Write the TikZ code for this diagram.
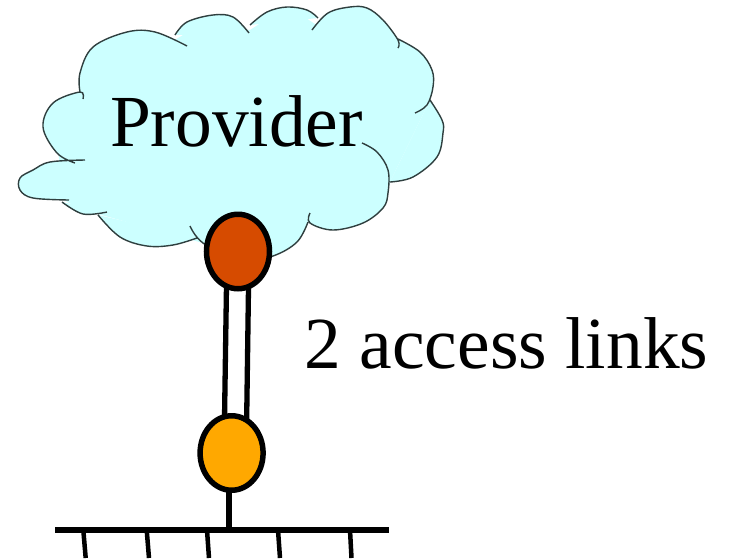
\documentclass[tikz,border=0pt]{standalone}
\usepackage{fontspec}
\setmainfont{Liberation Serif}
\usetikzlibrary{shapes.geometric, backgrounds}
\definecolor{cloudblue}{HTML}{CCFFFF}
\definecolor{cloudedge}{HTML}{2F3F3F}
\definecolor{perouter}{HTML}{D64B00}
\definecolor{lanrouter}{HTML}{FFA800}
\newcommand{\cloudlobes}[1]{\path[#1]
    plot[smooth,tension=.6] coordinates {(80,92) (80,73) (93,47) (127,32) (155,32) (187,46)}
    plot[smooth,tension=.6] coordinates {(175,35) (187,22) (213,15) (233,17) (249,33)}
    plot[smooth,tension=.6] coordinates {(250,25) (267,12) (287,7) (307,10) (318,18)}
    plot[smooth,tension=.6] coordinates {(312,30) (328,13) (350,7) (367,8) (383,20) (398,40) (398,48)}
    plot[smooth,tension=.6] coordinates {(398,39) (420,52) (432,70) (433,87) (427,105) (415,113)}
    plot[smooth,tension=.6] coordinates {(430,100) (442,120) (443,133) (437,157) (413,177) (390,182)}
    plot[smooth,tension=.6] coordinates {(362,143) (377,152) (388,170) (388,193) (383,208) (363,223) (333,230) (310,223) (310,213)}
    plot[smooth,tension=.6] coordinates {(308,222) (297,242) (273,256) (240,262) (203,243) (190,226)}
    plot[smooth,tension=.6] coordinates {(197,238) (173,245) (147,246) (120,237) (98,215)}
    plot[smooth,tension=.6] coordinates {(107,212) (83,214) (62,202)}
    plot[smooth,tension=.6] coordinates {(69,200) (33,198) (20,190) (20,178) (33,170) (50,162) (85,160)}
    plot[smooth,tension=.6] coordinates {(75,163) (57,153) (43,127) (53,103) (80,92) (83,99)};}

\begin{document}
\begin{tikzpicture}[x=1pt,y=-1pt,
        router/.style={ellipse,draw,line width=5.5pt,inner sep=0pt,minimum width=63pt,minimum height=74.5pt},
        link/.style={line width=5.3pt},
        label/.style={anchor=base,inner sep=0pt,font=\fontsize{73.4}{80}\selectfont}]
        \useasboundingbox (0,0) rectangle (732,558);
        % cloud
        \fill[cloudblue] (80,92) -- (178,38) -- (200,25) -- (250,30) -- (270,17) -- (300,14) -- (315,24) -- (340,20) -- (398,40) -- (427,105) -- (430,100) -- (390,182) -- (383,208) -- (308,222) -- (273,256) -- (203,243) -- (98,214) -- (80,209) -- (64,200) -- (30,190) -- (30,178) -- (60,165) -- (55,130) -- (65,105) -- cycle;
        \cloudlobes{fill=cloudblue}
        \cloudlobes{draw=cloudedge,line width=1.4pt}
        \node [label] (provider) at (236.5,146) {Provider};
        \node [label] (links) at (506.5,368) {2 access links};
        \node [router,fill=perouter] (pe) at (238,251.5) {};
        \node [router,fill=lanrouter] (ce) at (231.6,453) {};
        \coordinate (lanleft) at (55,530);
        \coordinate (lanright) at (389,530);
        \coordinate (lanstub) at (229,530);
        \draw[line width=5.5pt] (lanleft) -- (lanright);
        \begin{pgfonlayer}{background}
            \draw[link] ([xshift=-11pt]pe.center) -- ([xshift=-7.6pt]ce.center);
            \draw[link] ([xshift=11pt]pe.center) -- ([xshift=14.6pt]ce.center);
            \draw[link] ([xshift=-2.6pt]ce.center) -- (lanstub);
        \end{pgfonlayer}
        % hosts on the lan
        \foreach \xa/\xb in {83.3/85.7, 146.7/149, 207/209, 278/280, 350/351.5}
            \draw[line width=4.5pt] (\xa,530) -- (\xb,558);
    \end{tikzpicture}
\end{document}
